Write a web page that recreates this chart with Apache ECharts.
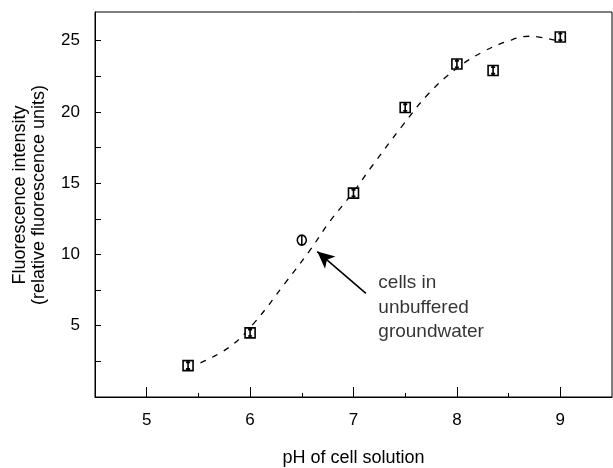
<!DOCTYPE html>
<html>
<head>
<meta charset="utf-8">
<script src="https://cdn.jsdelivr.net/npm/echarts@6/dist/echarts.min.js"></script>
<style>html,body{margin:0;padding:0;background:#fff}#c{width:613px;height:468px}</style>
</head>
<body>
<div id="c"></div>
<script>
// Buffered cell solutions (squares)
const bufferedPH = [5.4, 6.0, 7.0, 7.5, 8.0, 8.35, 9.0];
const bufferedFluor = [2.2, 4.5, 14.3, 20.3, 23.35, 22.9, 25.25];
// Cells in unbuffered groundwater (circle)
const unbufferedPH = [6.5];
const unbufferedFluor = [11.0];
// Dashed fitted curve
const curvePH = [5.52, 5.8, 6.04, 6.34, 6.57, 6.77, 6.99, 7.18, 7.47, 7.73, 7.99, 8.25, 8.51, 8.7, 8.96];
const curveFluor = [2.4, 3.5, 5.2, 8.0, 10.2, 12.3, 14.3, 16.2, 19.0, 21.3, 23.0, 24.2, 25.0, 25.3, 25.0];
// Ticks
const xMajorTicks = [5, 6, 7, 8, 9];
const xMinorTicks = [5.5, 6.5, 7.5, 8.5];
const yTicks = [2.5, 5, 7.5, 10, 12.5, 15, 17.5, 20, 22.5, 25];
const yLabels = [5, 10, 15, 20, 25];
// Annotation
const annotationText = 'cells in\nunbuffered\ngroundwater';
const annotationAnchor = [7.24, 8.87];
const arrowFrom = [7.12, 7.27];
const arrowTo = [6.65, 10.2];

const zip = (a, b) => a.map((v, i) => [v, b[i]]);
const FONT = '"Liberation Sans", Arial, Helvetica, sans-serif';
const INK = '#000';

const squareSym = 'path://M0,0H10V10H0Z M5,0V10 M3,1.8H7 M3,8.2H7';
const circleSym = 'path://M5,0A5,5 0 1 1 5,10A5,5 0 1 1 5,0Z M5,0V10';

const chart = echarts.init(document.getElementById('c'), null, {renderer: 'canvas'});
chart.setOption({
  animation: false,
  backgroundColor: '#fff',
  grid: {left: 95, right: 1, top: 12, bottom: 71, show: true, borderColor: INK, borderWidth: 1,
    containLabel: false, outerBoundsMode: 'none'},
  xAxis: [{
    type: 'value', min: 4.5, max: 9.5, position: 'bottom',
    name: 'pH of cell solution', nameLocation: 'middle', nameGap: 52,
    nameTextStyle: {fontFamily: FONT, fontSize: 18, color: INK},
    axisLine: {show: true, lineStyle: {color: INK, width: 1}},
    axisTick: {show: true, inside: true, length: 10, customValues: xMajorTicks, lineStyle: {color: INK, width: 1}},
    axisLabel: {show: true, customValues: xMajorTicks, margin: 15, fontFamily: FONT, fontSize: 17, color: INK},
    splitLine: {show: false}
  }, {
    type: 'value', min: 4.5, max: 9.5, position: 'bottom', offset: 0,
    axisLine: {show: false},
    axisTick: {show: true, inside: true, length: 4, customValues: xMinorTicks, lineStyle: {color: INK, width: 1}},
    axisLabel: {show: false},
    splitLine: {show: false}
  }],
  yAxis: {
    type: 'value', min: 0, max: 27,
    axisLine: {show: true, lineStyle: {color: INK, width: 1}},
    axisTick: {show: true, inside: true, length: 6, customValues: yTicks, lineStyle: {color: INK, width: 1}},
    axisLabel: {show: true, customValues: yLabels, margin: 15, fontFamily: FONT, fontSize: 17, color: INK},
    splitLine: {show: false}
  },
  graphic: [{
    type: 'text', x: 29.5, y: 195, rotation: Math.PI / 2,
    style: {text: 'Fluorescence intensity\n(relative fluorescence units)', fontFamily: FONT, fontSize: 18,
      lineHeight: 19, fill: INK, align: 'center', verticalAlign: 'middle'}
  }],
  series: [{
    type: 'line', xAxisIndex: 0, data: zip(curvePH, curveFluor), smooth: 0.4, showSymbol: false, symbol: 'none',
    lineStyle: {color: INK, width: 1.3, type: [6, 7]}, z: 2,
    markLine: {
      silent: true, symbol: ['none', 'arrow'], symbolSize: [12, 17],
      label: {show: false},
      lineStyle: {color: INK, width: 1.6, type: 'solid'},
      data: [[{coord: arrowFrom}, {coord: arrowTo}]]
    }
  }, {
    type: 'scatter', xAxisIndex: 0, data: zip(bufferedPH, bufferedFluor), symbol: squareSym, symbolSize: 10,
    itemStyle: {color: 'rgba(255,255,255,1)', borderColor: INK, borderWidth: 1.6, opacity: 1}, z: 3
  }, {
    type: 'scatter', xAxisIndex: 0, data: zip(unbufferedPH, unbufferedFluor), symbol: circleSym, symbolSize: [9, 10],
    itemStyle: {color: 'rgba(255,255,255,1)', borderColor: INK, borderWidth: 1.6, opacity: 1}, z: 3
  }, {
    type: 'scatter', xAxisIndex: 0, data: [annotationAnchor], symbolSize: 0, silent: true,
    label: {show: true, formatter: annotationText, position: [0, 0], align: 'left', verticalAlign: 'top',
      fontFamily: FONT, fontSize: 19, lineHeight: 24.5, color: INK}
  }]
});
</script>
</body>
</html>
